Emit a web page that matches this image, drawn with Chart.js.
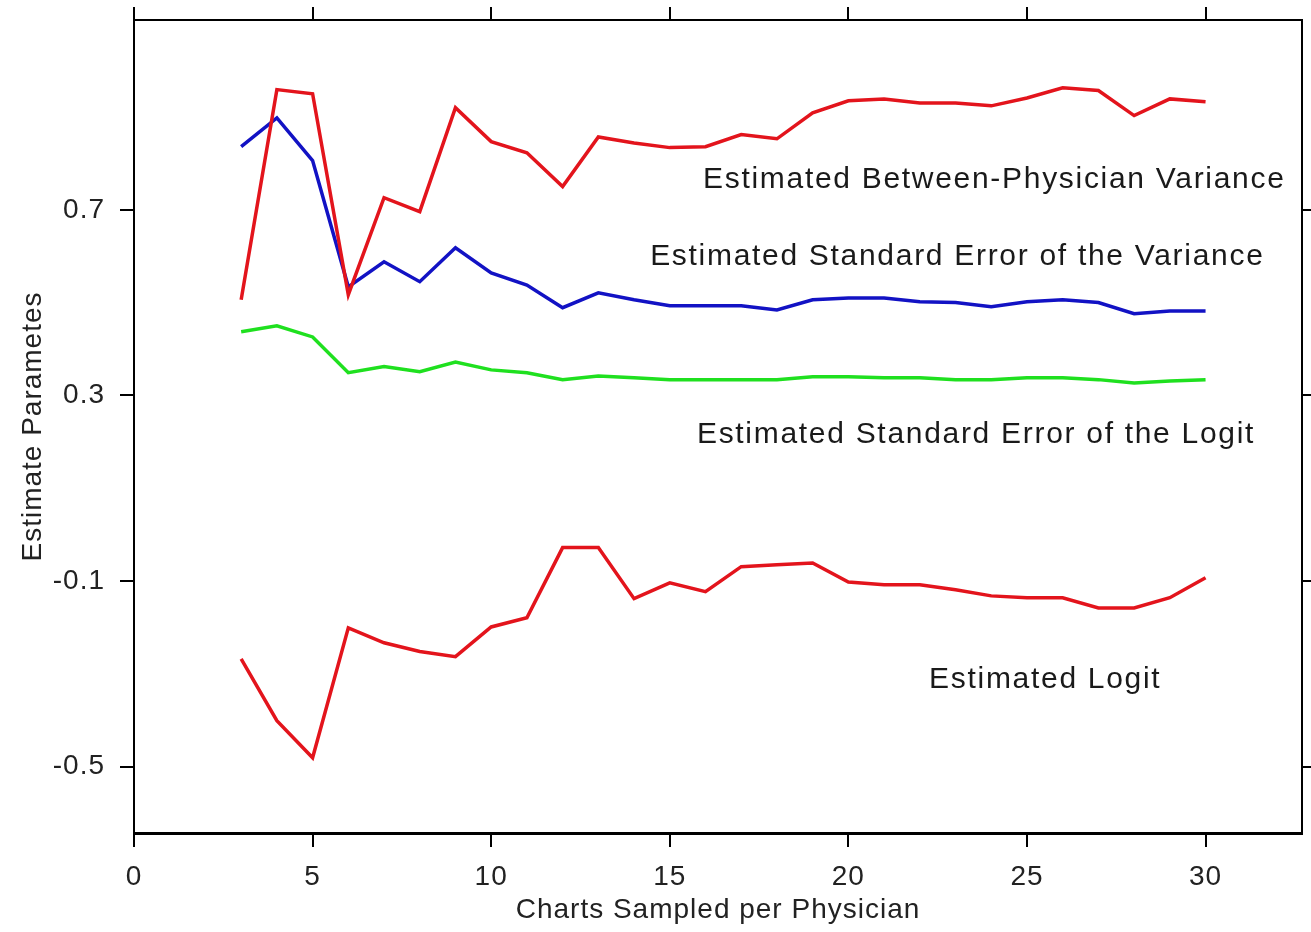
<!DOCTYPE html>
<html>
<head>
<meta charset="utf-8">
<script src="https://cdn.jsdelivr.net/npm/chart.js@4.4.1/dist/chart.umd.min.js"></script>
<style>
  html, body { margin: 0; padding: 0; background: #fff; }
  #wrap { width: 1311px; height: 932px; position: relative; }
</style>
</head>
<body>
<div id="wrap"><canvas id="paramChart"></canvas></div>
<script>
// charts sampled per physician (x values)
const chartsSampled = [3, 4, 5, 6, 7, 8, 9, 10, 11, 12, 13, 14, 15, 16, 17, 18, 19, 20, 21, 22, 23, 24, 25, 26, 27, 28, 29, 30];

const betweenVariance = [0.506, 0.959, 0.950, 0.517, 0.726, 0.696, 0.920, 0.847, 0.823, 0.750, 0.857, 0.844, 0.834, 0.836,
    0.862, 0.853, 0.909, 0.935, 0.939, 0.930, 0.930, 0.924, 0.941, 0.963, 0.957, 0.903, 0.939, 0.933];
const seVariance = [0.836, 0.898, 0.806, 0.534, 0.588, 0.545, 0.618, 0.564, 0.538, 0.489, 0.521, 0.506, 0.493, 0.493,
    0.493, 0.484, 0.506, 0.510, 0.510, 0.502, 0.500, 0.491, 0.502, 0.506, 0.500, 0.476, 0.482, 0.482];
const seLogit = [0.437, 0.450, 0.426, 0.349, 0.362, 0.351, 0.372, 0.355, 0.349, 0.334, 0.342, 0.338, 0.334, 0.334,
    0.334, 0.334, 0.340, 0.340, 0.338, 0.338, 0.334, 0.334, 0.338, 0.338, 0.334, 0.327, 0.331, 0.334];
const logit = [-0.268, -0.401, -0.481, -0.201, -0.233, -0.252, -0.263, -0.199, -0.179, -0.028, -0.028, -0.138, -0.104, -0.123,
    -0.069, -0.065, -0.061, -0.102, -0.108, -0.108, -0.119, -0.132, -0.136, -0.136, -0.158, -0.158, -0.136, -0.093];

const xTicks = [0, 5, 10, 15, 20, 25, 30];
const yTicks = [-0.5, -0.1, 0.3, 0.7];

// text written inside the plot, anchored in data units (left edge, baseline)
const seriesLabels = [
    { text: 'Estimated Between-Physician Variance', x: 15.93, y: 0.747 },
    { text: 'Estimated Standard Error of the Variance', x: 14.45, y: 0.581 },
    { text: 'Estimated Standard Error of the Logit', x: 15.76, y: 0.197 },
    { text: 'Estimated Logit', x: 22.26, y: -0.331 }
];

const FONT = '"Liberation Sans", Arial, sans-serif';
const RED = '#e3141c';

function toPoints(values) {
    return chartsSampled.map((x, i) => ({ x: x, y: values[i] }));
}

function fixedTicks(list) {
    return function (scale) {
        scale.ticks = list.map(v => ({ value: v }));
    };
}

// force the box size and drop the label overhang padding so the plot frame sits where it should
function boxSize(w, h) {
    return function (s) {
        if (w !== null) s.width = w;
        if (h !== null) s.height = h;
        s.paddingTop = 0;
        s.paddingBottom = 0;
        s.paddingLeft = 0;
        s.paddingRight = 0;
    };
}

const labelPlugin = {
    id: 'seriesLabels',
    beforeDraw(chart) {
        chart.ctx.letterSpacing = '1px';
    },
    afterDatasetsDraw(chart) {
        const ctx = chart.ctx;
        const xs = chart.scales.x;
        const ys = chart.scales.y;
        ctx.save();
        ctx.font = '30px ' + FONT;
        ctx.letterSpacing = '1.7px';
        ctx.fillStyle = '#1a1a1a';
        ctx.textAlign = 'left';
        ctx.textBaseline = 'alphabetic';
        seriesLabels.forEach(l => {
            ctx.fillText(l.text, xs.getPixelForValue(l.x), ys.getPixelForValue(l.y));
        });
        ctx.restore();
    }
};

const tickGrid = { drawOnChartArea: false, color: '#000', lineWidth: 2, tickLength: 14 };

const ctx = document.getElementById('paramChart').getContext('2d');
const paramChart = new Chart(ctx, {
    type: 'line',
    data: {
        datasets: [
            { data: toPoints(betweenVariance), borderColor: RED },
            { data: toPoints(seVariance), borderColor: '#1212c4' },
            { data: toPoints(seLogit), borderColor: '#1fe01f' },
            { data: toPoints(logit), borderColor: RED }
        ]
    },
    options: {
        responsive: true,
        maintainAspectRatio: false,
        animation: false,
        layout: { padding: 0 },
        elements: {
            line: { borderWidth: 3.5, tension: 0, fill: false },
            point: { radius: 0 }
        },
        plugins: {
            legend: { display: false },
            tooltip: { enabled: false }
        },
        scales: {
            x: {
                type: 'linear', position: 'bottom', min: 0, max: 32.7,
                afterBuildTicks: fixedTicks(xTicks),
                afterFit: boxSize(null, 99),
                grid: tickGrid,
                border: { display: true, color: '#000', width: 3 },
                ticks: { color: '#222', font: { family: FONT, size: 28 }, padding: 13, maxRotation: 0 },
                title: {
                    display: true, text: 'Charts Sampled per Physician', color: '#222',
                    font: { family: FONT, size: 28 }, padding: { top: 0, bottom: 5 }
                }
            },
            x2: {
                type: 'linear', position: 'top', min: 0, max: 32.7,
                afterBuildTicks: fixedTicks(xTicks),
                afterFit: boxSize(null, 20),
                grid: Object.assign({}, tickGrid, { tickLength: 13 }),
                border: { display: true, color: '#000', width: 2 },
                ticks: { display: false }
            },
            y: {
                type: 'linear', position: 'left', min: -0.643, max: 1.109,
                afterBuildTicks: fixedTicks(yTicks),
                afterFit: boxSize(134, null),
                grid: tickGrid,
                border: { display: true, color: '#000', width: 2 },
                ticks: { color: '#222', font: { family: FONT, size: 28 }, padding: 15 },
                title: {
                    display: true, text: 'Estimate Parametes', color: '#222',
                    font: { family: FONT, size: 28 }, padding: { top: 16, bottom: 0 }
                }
            },
            y2: {
                type: 'linear', position: 'right', min: -0.643, max: 1.109,
                afterBuildTicks: fixedTicks(yTicks),
                afterFit: boxSize(9, null),
                grid: Object.assign({}, tickGrid, { tickLength: 9 }),
                border: { display: true, color: '#000', width: 2 },
                ticks: { display: false }
            }
        }
    },
    plugins: [labelPlugin]
});
</script>
</body>
</html>
